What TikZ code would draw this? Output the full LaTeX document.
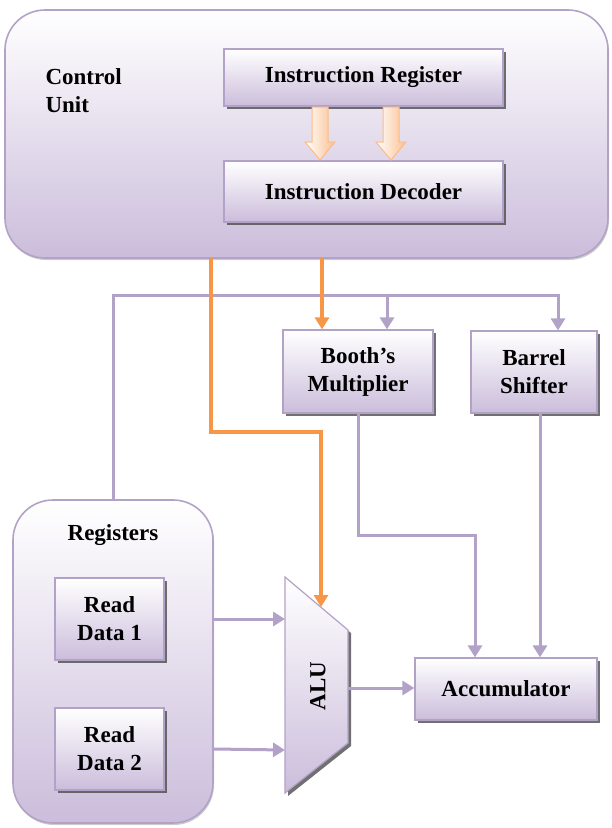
\documentclass[tikz,border=0pt]{standalone}
\usepackage{fontspec}
\setmainfont{Liberation Serif}
\usetikzlibrary{arrows.meta,shadows,positioning}
\definecolor{lavande}{HTML}{B3A2C7}
\definecolor{lavfond}{HTML}{CBBDDB}
\definecolor{orange1}{HTML}{F79646}
\definecolor{orclair}{HTML}{FAC090}
\tikzset{
  texte/.style={font=\bfseries\fontsize{23}{28}\selectfont, align=center},
  bloc/.style={texte, draw=lavande, line width=1.2pt, top color=white, bottom color=lavfond,
    inner sep=0pt, drop shadow={shadow xshift=3pt, shadow yshift=-3pt, fill=black!70, opacity=0.8}},
  cadre/.style={draw=lavande, line width=1.6pt, top color=white, bottom color=lavfond,
    inner sep=0pt, rounded corners=40pt, drop shadow={shadow xshift=1pt, shadow yshift=-2pt, fill=black!40, opacity=0.5}},
  ligne/.style={draw=lavande, line width=3pt},
  fil/.style={draw=orange1, line width=3.5pt},
  pointe/.style={-{Triangle[length=12pt,width=14pt]}}
}
\begin{document}
\begin{tikzpicture}[x=1pt,y=-1pt]
\useasboundingbox (0,0) rectangle (611,828);
%unite de controle
\node[cadre, minimum width=603pt, minimum height=248pt] (cu) at (306.5,134) {};
\node[texte, align=left, anchor=west] (cutxt) at (42,91) {Control\\Unit};
\node[bloc, minimum width=279pt, minimum height=57pt] (ir) at (363.5,77.5) {Instruction Register};
\node[bloc, minimum width=279pt, minimum height=61pt] (id) at (363.5,191.5) {Instruction Decoder};
%fleches IR -> ID
\foreach \x in {320,391}
  \draw[draw=orclair!90!orange1, line width=1pt, left color=white, right color=orclair]
    (\x-8,107) -- (\x+8,107) -- (\x+8,142) -- (\x+15,142) -- (\x,160) -- (\x-15,142) -- (\x-8,142) -- cycle;
%fin
%registres
\node[cadre, minimum width=200pt, minimum height=323pt] (reg) at (113,661.5) {};
\node[texte] (regtxt) at (113,535) {Registers};
\node[bloc, minimum width=109pt, minimum height=82pt] (rd1) at (109.5,619) {Read\\Data 1};
\node[bloc, minimum width=109pt, minimum height=82pt] (rd2) at (109.5,749) {Read\\Data 2};
%fin
\node[bloc, minimum width=150pt, minimum height=83pt] (booth) at (358,371.5) {Booth's\\Multiplier};
\node[bloc, minimum width=126pt, minimum height=82pt] (barrel) at (534,372) {Barrel\\Shifter};
\node[bloc, minimum width=182pt, minimum height=62pt] (acc) at (506,689) {Accumulator};
%ALU
\path[draw=lavande, line width=1.2pt, top color=white, bottom color=lavfond,
  drop shadow={shadow xshift=3pt, shadow yshift=-3pt, fill=black!70, opacity=0.8}]
  (285,577) -- (348,630) -- (348,743) -- (285,793) -- cycle;
\node[texte, rotate=90] (alu) at (318,686) {ALU};
\coordinate (alu-h) at (321,607);
\coordinate (alu-e1) at (285,619);
\coordinate (alu-e2) at (285,750);
\coordinate (alu-s) at (348,688);
%fin
%bus
\coordinate (bus-b) at (387,295);
\coordinate (bus-d) at (558,295);
\draw[ligne, pointe] (reg.north) |- (bus-d) -- ([xshift=24pt]barrel.north);
\draw[ligne, pointe] (bus-b) -- (bus-b |- booth.north);
%fin
%signaux de controle
\coordinate (o1) at (211,258);
\coordinate (o2) at (322,258);
\coordinate (o1-c) at (321,432);
\draw[fil, pointe] (o1) |- (o1-c) -- (alu-h);
\draw[fil, pointe] (o2) -- (o2 |- booth.north);
%fin
%vers accumulateur
\coordinate (acc-c1) at (475,535);
\draw[ligne, pointe] (booth.south) |- (acc-c1) -- (acc-c1 |- acc.north);
\draw[ligne, pointe] ([xshift=6pt]barrel.south) -- ([xshift=6pt]barrel.south |- acc.north);
\draw[ligne, pointe] (rd1.east -| reg.east) -- (alu-e1);
\draw[ligne, pointe] (rd2.east -| reg.east) -- (alu-e2);
\draw[ligne, pointe] (alu-s) -- (alu-s -| acc.west);
\end{tikzpicture}
\end{document}
